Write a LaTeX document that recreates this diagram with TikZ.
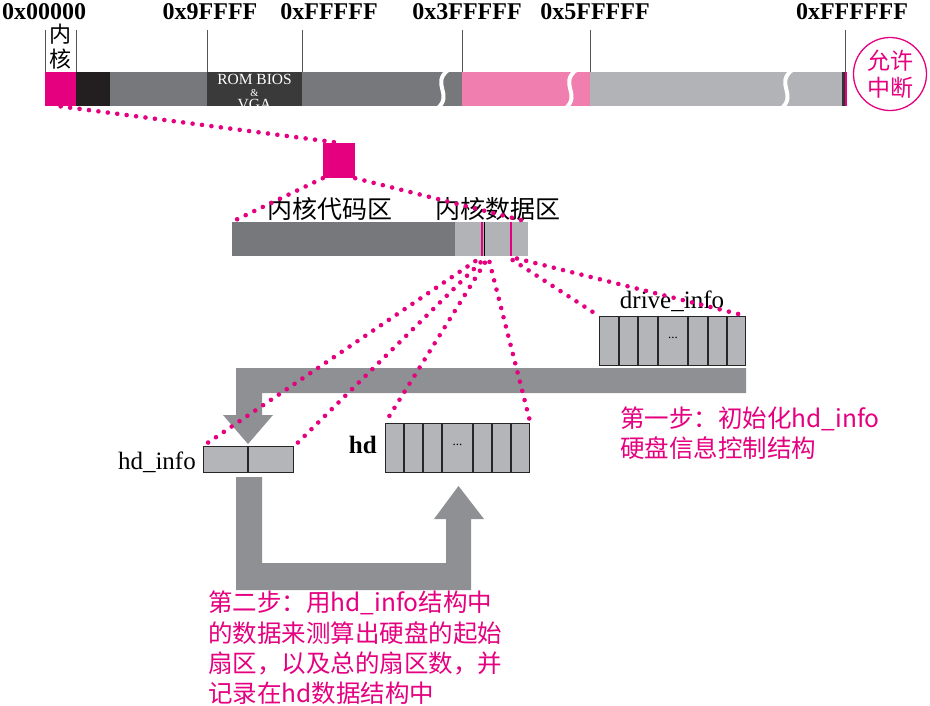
\documentclass[tikz,border=0pt]{standalone}
\usepackage{fontspec}
\setmainfont{Liberation Serif}
\newfontfamily\cjk{Noto Sans CJK SC}
\definecolor{mag}{HTML}{E4007F}
\definecolor{lpink}{HTML}{F07FB0}
\definecolor{midgray}{HTML}{77787B}
\definecolor{darkblk}{HTML}{3A3A3B}
\definecolor{blk}{HTML}{231F20}
\definecolor{lgray}{HTML}{B2B3B6}
\definecolor{cellgray}{HTML}{B4B5B8}
\definecolor{arrgray}{HTML}{8F9094}
\definecolor{tickgray}{HTML}{555555}
\newcommand{\fs}[2]{\fontsize{#1}{#2}\selectfont}
\begin{document}
\begin{tikzpicture}[x=1pt,y=-1pt,
  dotline/.style={draw=mag, line width=4.6pt, line cap=round, dash pattern=on 0pt off 9.5pt},
  cellbox/.style={draw=black!85, line width=1.4pt, fill=cellgray, inner sep=0pt},
  celldiv/.style={draw=black!85, line width=1.4pt},
  tickline/.style={draw=tickgray, line width=0.8pt},
  hexlabel/.style={font=\bfseries\fs{24}{28}, anchor=base, inner sep=0pt},
  seg/.style={inner sep=0pt, anchor=north west, draw=none},
  bigarrow/.style={fill=arrgray, draw=none},
  steptext/.style={font=\cjk\fs{24.5}{30}, text=mag, anchor=base west, inner sep=0pt},
  cjklabel/.style={font=\cjk\fs{25}{30}, inner sep=0pt},
  serlabel/.style={font=\fs{25}{30}, inner sep=0pt},
  romtext/.style={font=\fs{15.5}{12}, text=white, anchor=base, inner sep=0pt}]
\useasboundingbox (0,0) rectangle (930,705);

% ---------- top memory bar ----------
\node[seg, fill=mag, minimum width=31pt, minimum height=34pt] (kern) at (45,72) {};
\fill[blk] (76,72) rectangle (110,106);
\fill[midgray] (110,72) rectangle (207,106);
\fill[darkblk] (207,72) rectangle (302,106);
\fill[midgray] (302,72) rectangle (462,106);
\fill[lpink] (462,72) rectangle (590,106);
\fill[lgray] (590,72) rectangle (843,106);
\fill[black!80] (842,72) rectangle (844.5,106);
\fill[mag] (844.5,72) rectangle (846.5,106);
\foreach \x in {443,571,787}
  \draw[white, line width=4pt] (\x+5,70) .. controls (\x-12,84) and (\x+10,94) .. (\x-5,108);

\begin{scope}
\clip (207,72) rectangle (302,106);
\node[romtext] (rom1) at (254.5,84) {ROM BIOS};
\node[romtext, font=\fs{10.5}{12}] (rom2) at (254.5,96) {\&};
\node[romtext] (rom3) at (254.5,109) {VGA};
\end{scope}

\foreach \x in {45,76,207,302,462,590,845}
  \draw[tickline] (\x,30) -- (\x,72);

\node[hexlabel] (h0) at (44,19) {0x00000};
\node[hexlabel] (h1) at (210,19) {0x9FFFF};
\node[hexlabel] (h2) at (329,19) {0xFFFFF};
\node[hexlabel] (h3) at (467,19) {0x3FFFFF};
\node[hexlabel] (h4) at (595,19) {0x5FFFFF};
\node[hexlabel] (h5) at (852,19) {0xFFFFFF};

\node[font=\cjk\fs{22}{25}, align=center, inner sep=0pt] (kl) at (60.5,46.5) {内\\核};

\node[circle, draw=mag, line width=1.3pt, minimum size=73pt, inner sep=0pt,
      font=\cjk\fs{23}{27}, text=mag, align=center] (irq) at (890,74) {允许\\中断};

% ---------- zoomed kernel ----------
\node[fill=mag, inner sep=0pt, minimum width=32pt, minimum height=35pt] (zsq) at (339,160.5) {};
\node[fill=midgray, inner sep=0pt, minimum width=223pt, minimum height=34pt] (code) at (343.5,239) {};
\node[fill=lgray, inner sep=0pt, minimum width=73pt, minimum height=34pt] (data) at (491.5,239) {};
\draw[mag, line width=1.6pt] (482,222) -- (482,256);
\draw[black, line width=1.2pt] (484.6,222) -- (484.6,256);
\draw[mag, line width=1.6pt] (511,222) -- (511,256);

\node[cjklabel] (lcode) at (330,209) {内核代码区};
\node[cjklabel] (ldata) at (498,209) {内核数据区};

% ---------- big gray arrows ----------
\fill[bigarrow] (746,368) -- (746,393) -- (262,393) -- (262,415) -- (273,415)
  -- (248,444) -- (223,415) -- (236,415) -- (236,368) -- cycle;
\fill[bigarrow] (236,477) -- (262,477) -- (262,563) -- (446,563) -- (446,519)
  -- (434,519) -- (458.5,486) -- (484,519) -- (471,519) -- (471,590) -- (236,590) -- cycle;

% ---------- structures ----------
\node[cellbox, anchor=north west, minimum width=146pt, minimum height=49pt] (drv) at (599,316) {};
\foreach \x in {619,638,658,688,708,727}
  \draw[celldiv] (\x,316) -- (\x,365);
\node[font=\fs{13}{14}, inner sep=0pt] (drvdots) at (673,338) {...};

\node[cellbox, anchor=north west, minimum width=144pt, minimum height=49pt] (hd) at (385,423) {};
\foreach \x in {404,423,442,473,492,511}
  \draw[celldiv] (\x,423) -- (\x,472);
\node[font=\fs{13}{14}, inner sep=0pt] (hddots) at (457.5,445) {...};

\node[cellbox, anchor=north west, minimum width=90pt, minimum height=26pt] (hdi) at (203,446) {};
\draw[celldiv] (248,446) -- (248,472);

\node[serlabel, anchor=base] (ldrv) at (672,308) {drive\_info};
\node[serlabel, anchor=base east] (lhdi) at (196,469) {hd\_info};
\node[serlabel, font=\bfseries\fs{25}{30}, anchor=base east] (lhd) at (377,453) {hd};

% ---------- dotted connectors ----------
\draw[dotline] (kern.south) -- (zsq.north);
\draw[dotline] (zsq.south west) -- (code.north west);
\draw[dotline] (zsq.south east) -- (data.north east);

\coordinate (p1) at (477,260);
\coordinate (p2) at (482,261);
\coordinate (p3) at (486,261);
\coordinate (p4) at (489,260);
\coordinate (p5) at (511,259);
\coordinate (p6) at (515,258);
\begin{scope}[shorten <=2pt]
\draw[dotline] (p1) -- (hdi.north west);
\draw[dotline] (p2) -- (hdi.north east);
\draw[dotline] (p3) -- (hd.north west);
\draw[dotline] (p4) -- (hd.north east);
\draw[dotline] (p5) -- (drv.north west);
\draw[dotline] (p6) -- (drv.north east);
\end{scope}

% ---------- step texts ----------
\node[steptext] (s1a) at (620,427) {第一步：初始化hd\_info};
\node[steptext] (s1b) at (620,457) {硬盘信息控制结构};

\node[steptext] (s2a) at (208,611) {第二步：用hd\_info结构中};
\node[steptext] (s2b) at (208,642) {的数据来测算出硬盘的起始};
\node[steptext] (s2c) at (208,672) {扇区，以及总的扇区数，并};
\node[steptext] (s2d) at (208,702) {记录在hd数据结构中};
\end{tikzpicture}
\end{document}
